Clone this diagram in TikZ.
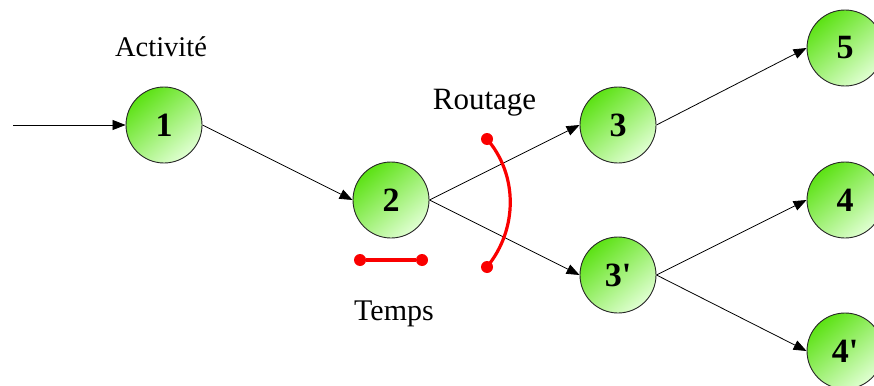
\documentclass[tikz,border=0pt]{standalone}
\usepackage{fontspec}
\setmainfont{Liberation Serif}
\usetikzlibrary{arrows.meta}
\definecolor{gA}{RGB}{92,226,20}
\definecolor{gB}{RGB}{224,255,210}
\definecolor{rd}{RGB}{250,0,0}
\begin{document}
\begin{tikzpicture}[x=1pt,y=1pt,
  act/.style={circle,draw=black!85,line width=0.9pt,minimum size=76pt,inner sep=0pt,
    shading=axis,top color=gA,bottom color=gB,shading angle=40,
    font=\fontsize{34}{34}\selectfont\bfseries},
  lbl/.style={anchor=base},
  arr/.style={-{Triangle[length=13pt,width=10pt]},line width=0.8pt},
  redl/.style={rd,line width=3.2pt},
  dot/.style={circle,fill=rd,inner sep=0pt,minimum size=12pt}]
\useasboundingbox (0,0) rectangle (874,-385);
\node[act] (n1) at (164,-125) {1};
\node[act] (n2) at (391,-200) {2};
\node[act] (n3) at (618,-125) {3};
\node[act] (n3p) at (618,-275) {3\textquotesingle};
\node[act] (n5) at (845,-48) {5};
\node[act] (n4) at (845,-200) {4};
\node[act] (n4p) at (845,-351) {4\textquotesingle};
\coordinate (s) at (13,-125);
\draw[arr] (s) -- (n1.west);
\draw[arr] (n1.east) -- (n2.west);
\draw[arr] (n2.east) -- (n3.west);
\draw[arr] (n2.east) -- (n3p.west);
\draw[arr] (n3.east) -- (n5.west);
\draw[arr] (n3p.east) -- (n4.west);
\draw[arr] (n3p.east) -- (n4p.west);
\node[lbl,font=\fontsize{28.5}{28.5}\selectfont] (la) at (161,-57) {Activité};
\node[lbl,font=\fontsize{31}{31}\selectfont] (lr) at (484.5,-110) {Routage};
\node[lbl,font=\fontsize{30}{30}\selectfont] (lt) at (394,-320) {Temps};
\node[dot] (t1) at (360,-260) {};
\node[dot] (t2) at (422,-260) {};
\draw[redl] (t1) -- (t2);
\node[dot] (r1) at (487,-139) {};
\node[dot] (r2) at (487,-267) {};
\draw[redl] (r1.center) .. controls (518,-175) and (518,-229) .. (r2.center);
\end{tikzpicture}
\end{document}
